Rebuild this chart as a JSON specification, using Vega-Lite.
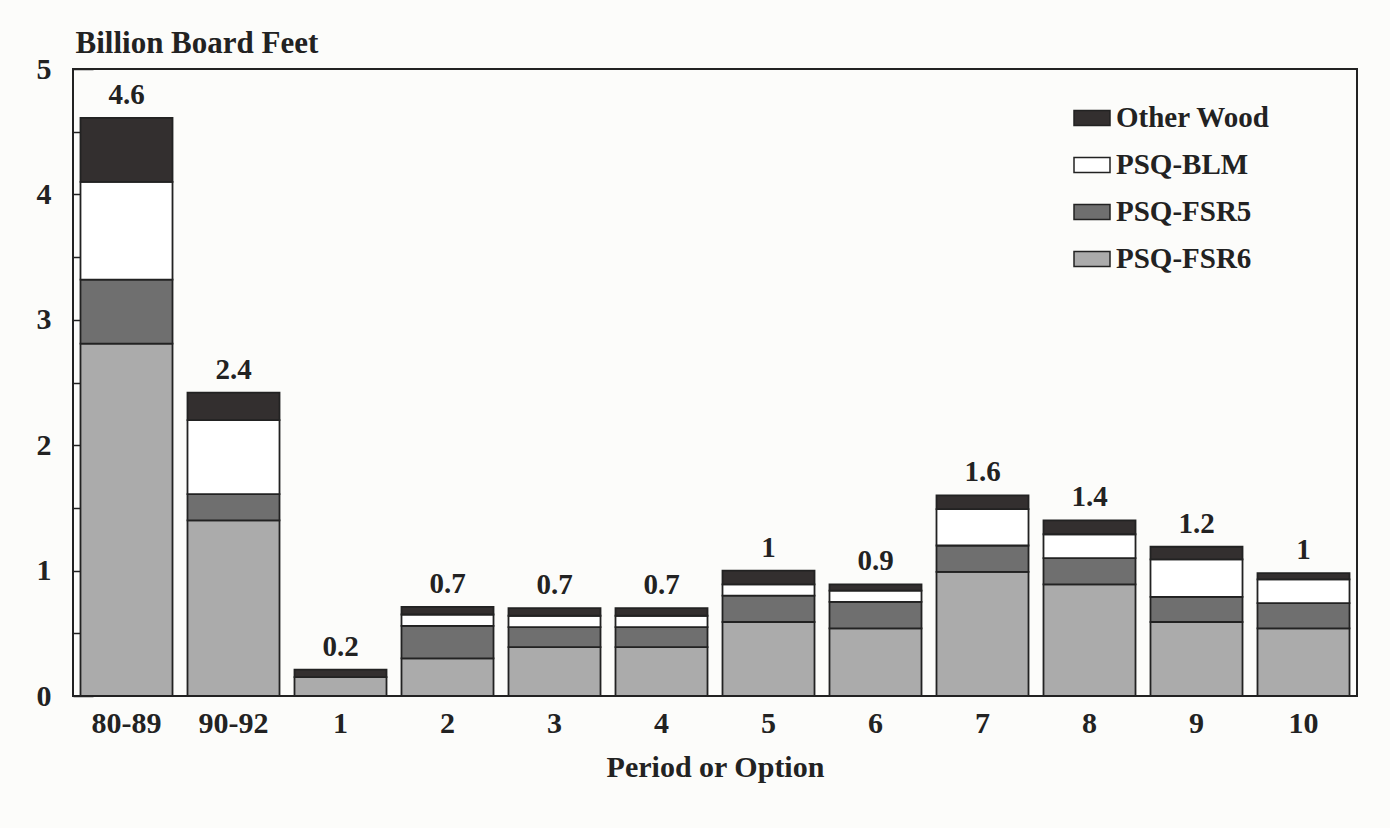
{
  "$schema": "https://vega.github.io/schema/vega-lite/v6.json",
  "width": 1284,
  "height": 627,
  "autosize": {"type": "none"},
  "padding": {"left": 73, "top": 69, "right": 33, "bottom": 132},
  "background": "#fcfcfa",
  "config": {
    "view": {"stroke": "#222222", "strokeWidth": 2},
    "font": "Liberation Serif",
    "text": {"font": "Liberation Serif"}
  },
  "datasets": {
    "wood": [
      {"period": "80-89", "type": "PSQ-FSR6", "value": 2.81},
      {"period": "80-89", "type": "PSQ-FSR5", "value": 0.51},
      {"period": "80-89", "type": "PSQ-BLM", "value": 0.78},
      {"period": "80-89", "type": "Other Wood", "value": 0.51},
      {"period": "90-92", "type": "PSQ-FSR6", "value": 1.40},
      {"period": "90-92", "type": "PSQ-FSR5", "value": 0.21},
      {"period": "90-92", "type": "PSQ-BLM", "value": 0.59},
      {"period": "90-92", "type": "Other Wood", "value": 0.22},
      {"period": "1", "type": "PSQ-FSR6", "value": 0.15},
      {"period": "1", "type": "Other Wood", "value": 0.06},
      {"period": "2", "type": "PSQ-FSR6", "value": 0.30},
      {"period": "2", "type": "PSQ-FSR5", "value": 0.26},
      {"period": "2", "type": "PSQ-BLM", "value": 0.09},
      {"period": "2", "type": "Other Wood", "value": 0.06},
      {"period": "3", "type": "PSQ-FSR6", "value": 0.39},
      {"period": "3", "type": "PSQ-FSR5", "value": 0.16},
      {"period": "3", "type": "PSQ-BLM", "value": 0.09},
      {"period": "3", "type": "Other Wood", "value": 0.06},
      {"period": "4", "type": "PSQ-FSR6", "value": 0.39},
      {"period": "4", "type": "PSQ-FSR5", "value": 0.16},
      {"period": "4", "type": "PSQ-BLM", "value": 0.09},
      {"period": "4", "type": "Other Wood", "value": 0.06},
      {"period": "5", "type": "PSQ-FSR6", "value": 0.59},
      {"period": "5", "type": "PSQ-FSR5", "value": 0.21},
      {"period": "5", "type": "PSQ-BLM", "value": 0.09},
      {"period": "5", "type": "Other Wood", "value": 0.11},
      {"period": "6", "type": "PSQ-FSR6", "value": 0.54},
      {"period": "6", "type": "PSQ-FSR5", "value": 0.21},
      {"period": "6", "type": "PSQ-BLM", "value": 0.09},
      {"period": "6", "type": "Other Wood", "value": 0.05},
      {"period": "7", "type": "PSQ-FSR6", "value": 0.99},
      {"period": "7", "type": "PSQ-FSR5", "value": 0.21},
      {"period": "7", "type": "PSQ-BLM", "value": 0.29},
      {"period": "7", "type": "Other Wood", "value": 0.11},
      {"period": "8", "type": "PSQ-FSR6", "value": 0.89},
      {"period": "8", "type": "PSQ-FSR5", "value": 0.21},
      {"period": "8", "type": "PSQ-BLM", "value": 0.19},
      {"period": "8", "type": "Other Wood", "value": 0.11},
      {"period": "9", "type": "PSQ-FSR6", "value": 0.59},
      {"period": "9", "type": "PSQ-FSR5", "value": 0.20},
      {"period": "9", "type": "PSQ-BLM", "value": 0.30},
      {"period": "9", "type": "Other Wood", "value": 0.10},
      {"period": "10", "type": "PSQ-FSR6", "value": 0.54},
      {"period": "10", "type": "PSQ-FSR5", "value": 0.20},
      {"period": "10", "type": "PSQ-BLM", "value": 0.19},
      {"period": "10", "type": "Other Wood", "value": 0.05}
    ],
    "totals": [
      {"period": "80-89", "total": 4.61, "label": "4.6"},
      {"period": "90-92", "total": 2.42, "label": "2.4"},
      {"period": "1", "total": 0.21, "label": "0.2"},
      {"period": "2", "total": 0.71, "label": "0.7"},
      {"period": "3", "total": 0.70, "label": "0.7"},
      {"period": "4", "total": 0.70, "label": "0.7"},
      {"period": "5", "total": 1.00, "label": "1"},
      {"period": "6", "total": 0.89, "label": "0.9"},
      {"period": "7", "total": 1.60, "label": "1.6"},
      {"period": "8", "total": 1.40, "label": "1.4"},
      {"period": "9", "total": 1.19, "label": "1.2"},
      {"period": "10", "total": 0.98, "label": "1"}
    ]
  },
  "layer": [
    {
      "data": {"name": "wood"},
      "mark": {"type": "bar", "stroke": "#222222", "strokeWidth": 1.8},
      "encoding": {
        "x": {
          "field": "period",
          "type": "nominal",
          "sort": null,
          "scale": {"paddingInner": 0.14, "paddingOuter": 0.07},
          "title": "Period or Option",
          "axis": {
            "labelAngle": 0,
            "labelFont": "Liberation Serif",
            "labelFontSize": 30,
            "labelFontWeight": "bold",
            "labelColor": "#222222",
            "labelPadding": 12,
            "ticks": false,
            "domain": false,
            "titleFont": "Liberation Serif",
            "titleFontSize": 30,
            "titleFontWeight": "bold",
            "titleColor": "#222222",
            "titlePadding": 14
          }
        },
        "y": {
          "field": "value",
          "type": "quantitative",
          "stack": "zero",
          "scale": {"domain": [0, 5]},
          "title": "Billion Board Feet",
          "axis": {
            "values": [0, 0.5, 1, 1.5, 2, 2.5, 3, 3.5, 4, 4.5, 5],
            "labelExpr": "datum.value % 1 === 0 ? '' + datum.value : ''",
            "grid": false,
            "domain": false,
            "tickColor": "#222222",
            "tickWidth": 1.5,
            "tickSize": {"condition": {"test": "datum.value % 1 === 0", "value": -20}, "value": -8},
            "labelFont": "Liberation Serif",
            "labelFontSize": 30,
            "labelFontWeight": "bold",
            "labelColor": "#222222",
            "labelPadding": 42,
            "titleAngle": 0,
            "titleAlign": "left",
            "titleBaseline": "alphabetic",
            "titleX": 2,
            "titleY": -17,
            "titleFont": "Liberation Serif",
            "titleFontSize": 31,
            "titleFontWeight": "bold",
            "titleColor": "#222222"
          }
        },
        "color": {
          "field": "type",
          "type": "nominal",
          "scale": {
            "domain": ["Other Wood", "PSQ-BLM", "PSQ-FSR5", "PSQ-FSR6"],
            "range": ["#332f2f", "#ffffff", "#6f6f6f", "#ababab"]
          },
          "legend": {
            "orient": "none",
            "legendX": 1000,
            "legendY": 30,
            "title": null,
            "labelFont": "Liberation Serif",
            "labelFontSize": 29,
            "labelFontWeight": "bold",
            "labelColor": "#222222",
            "labelOffset": 5,
            "symbolType": "M-1,-0.42H1V0.42H-1Z",
            "symbolSize": 1296,
            "symbolStrokeColor": "#222222",
            "symbolStrokeWidth": 1.5,
            "symbolOpacity": 1,
            "rowPadding": 13
          }
        },
        "order": {"field": "type", "sort": "descending"}
      }
    },
    {
      "data": {"name": "totals"},
      "mark": {"type": "text", "baseline": "alphabetic", "dy": -14, "fontSize": 29, "fontWeight": "bold", "font": "Liberation Serif", "color": "#222222"},
      "encoding": {
        "x": {"field": "period", "type": "nominal", "sort": null},
        "y": {"field": "total", "type": "quantitative"},
        "text": {"field": "label"}
      }
    }
  ]
}
